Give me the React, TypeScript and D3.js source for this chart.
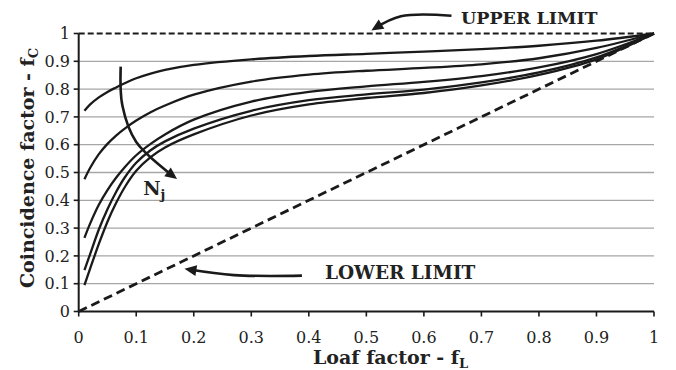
import * as d3 from 'd3'

const W = 676
const H = 370

// Loaf factor grid shared by every curve
const loafFactor = [0.01, 0.02, 0.035, 0.05, 0.065, 0.08, 0.1, 0.125, 0.15, 0.2, 0.3, 0.4, 0.5, 0.6, 0.7, 0.8, 0.9, 1.0]

// Coincidence factor, one series per N_j (top curve = smallest N_j)
const curveA = [0.722, 0.745, 0.77, 0.79, 0.806, 0.821, 0.839, 0.856, 0.869, 0.887, 0.907, 0.919, 0.927, 0.935, 0.944, 0.956, 0.974, 1.0]
const curveB = [0.476, 0.517, 0.566, 0.603, 0.633, 0.658, 0.687, 0.717, 0.741, 0.78, 0.827, 0.852, 0.866, 0.876, 0.889, 0.911, 0.948, 1.0]
const curveC = [0.265, 0.317, 0.384, 0.437, 0.481, 0.519, 0.562, 0.603, 0.637, 0.69, 0.755, 0.79, 0.81, 0.826, 0.847, 0.878, 0.926, 1.0]
const curveD = [0.149, 0.207, 0.295, 0.368, 0.43, 0.482, 0.535, 0.58, 0.612, 0.658, 0.722, 0.76, 0.781, 0.798, 0.824, 0.86, 0.914, 1.0]
const curveE = [0.095, 0.155, 0.243, 0.323, 0.39, 0.447, 0.506, 0.555, 0.59, 0.637, 0.705, 0.745, 0.768, 0.786, 0.813, 0.851, 0.907, 1.0]
const curves = [curveA, curveB, curveC, curveD, curveE]

const limitX = [0, 1]
const upperLimit = [1, 1]
const lowerLimit = [0, 1]

const xTicks = [0, 0.1, 0.2, 0.3, 0.4, 0.5, 0.6, 0.7, 0.8, 0.9, 1]
const xTickLabels = ['0', '0.1', '0.2', '0.3', '0.4', '0.5', '0.6', '0.7', '0.8', '0.9', '1']
const yTicks = [0, 0.1, 0.2, 0.3, 0.4, 0.5, 0.6, 0.7, 0.8, 0.9, 1]
const yTickLabels = ['0', '0.1', '0.2', '0.3', '0.4', '0.5', '0.6', '0.7', '0.8', '0.9', '1']

// annotation arrows, in data units (tail -> tip)
const njArrow: [number, number][] = [[0.073, 0.881], [0.076, 0.74], [0.1, 0.61], [0.166, 0.484]]
const upperArrow: [number, number][] = [[0.648, 1.064], [0.56, 1.062], [0.514, 1.018]]
const lowerArrow: [number, number][] = [[0.388, 0.129], [0.27, 0.131], [0.19, 0.152]]

const FONT = '"DejaVu Serif", Georgia, serif'

export default function App() {
  const x = d3.scaleLinear().domain([0, 1]).range([78.7, 654])
  const y = d3.scaleLinear().domain([0, 1]).range([311.5, 33.5])

  const straight = d3
    .line<[number, number]>()
    .x((d) => x(d[0]))
    .y((d) => y(d[1]))

  const smooth = d3
    .line<[number, number]>()
    .x((d) => x(d[0]))
    .y((d) => y(d[1]))
    .curve(d3.curveCatmullRom.alpha(0.5))

  return (
    <svg
      width={W}
      height={H}
      style={{ position: 'absolute', left: 0, top: 0, background: '#fff' }}
      fontFamily={FONT}
    >
      <defs>
        <marker id="head" viewBox="0 0 10 10" refX="7" refY="5" markerWidth="5.2" markerHeight="4.6" orient="auto" markerUnits="strokeWidth">
          <path d="M0,0.5 L10,5 L0,9.5 z" fill="#1a1a1a" />
        </marker>
      </defs>

      {/* grid */}
      {yTicks.slice(1, -1).map((t) => (
        <line key={t} x1={x(0)} x2={x(1)} y1={y(t)} y2={y(t)} stroke="#a6a6a6" strokeWidth={1.3} />
      ))}

      {/* limits */}
      <path
        d={straight(limitX.map((v, i) => [v, upperLimit[i]]) as [number, number][]) ?? ''}
        fill="none"
        stroke="#1a1a1a"
        strokeWidth={2}
        strokeDasharray="6,3"
      />
      <path
        d={straight(limitX.map((v, i) => [v, lowerLimit[i]]) as [number, number][]) ?? ''}
        fill="none"
        stroke="#1a1a1a"
        strokeWidth={2.8}
        strokeDasharray="9,5"
      />

      {/* curves */}
      {curves.map((c, i) => (
        <path
          key={i}
          d={smooth(loafFactor.map((v, j) => [v, c[j]]) as [number, number][]) ?? ''}
          fill="none"
          stroke="#1a1a1a"
          strokeWidth={2.3}
        />
      ))}

      {/* axes */}
      <line x1={x(0)} x2={x(1)} y1={y(0)} y2={y(0)} stroke="#1a1a1a" strokeWidth={2} />
      <line x1={x(0)} x2={x(0)} y1={y(0)} y2={y(1)} stroke="#1a1a1a" strokeWidth={2} />
      {xTicks.map((t, i) => (
        <g key={t}>
          <line x1={x(t)} x2={x(t)} y1={y(0)} y2={y(0) + 5} stroke="#1a1a1a" strokeWidth={1.6} />
          <text x={x(t)} y={343} textAnchor="middle" fontSize={16} fill="#222">
            {xTickLabels[i]}
          </text>
        </g>
      ))}
      {yTicks.map((t, i) => (
        <g key={t}>
          <line x1={x(0) - 5} x2={x(0)} y1={y(t)} y2={y(t)} stroke="#1a1a1a" strokeWidth={1.6} />
          <text x={70} y={y(t)} dy="0.36em" textAnchor="end" fontSize={16} fill="#222">
            {yTickLabels[i]}
          </text>
        </g>
      ))}

      {/* axis titles */}
      <text x={313} y={364} fontSize={19} fontWeight="bold" fill="#222">
        Loaf factor - f
        <tspan fontSize={13} dy={4}>L</tspan>
      </text>
      <text
        transform={`translate(34, 168) rotate(-90)`}
        textAnchor="middle"
        fontSize={19}
        fontWeight="bold"
        fill="#222"
      >
        Coincidence factor - f
        <tspan fontSize={13} dy={4}>C</tspan>
      </text>

      {/* annotations */}
      <path d={smooth(njArrow) ?? ''} fill="none" stroke="#1a1a1a" strokeWidth={2.6} markerEnd="url(#head)" />
      <path d={smooth(upperArrow) ?? ''} fill="none" stroke="#1a1a1a" strokeWidth={2.6} markerEnd="url(#head)" />
      <path d={smooth(lowerArrow) ?? ''} fill="none" stroke="#1a1a1a" strokeWidth={2.6} markerEnd="url(#head)" />

      <text x={x(0.112)} y={y(0.419)} fontSize={19} fontWeight="bold" fill="#222">
        N
        <tspan fontSize={13} dy={4}>j</tspan>
      </text>
      <text x={461} y={23.5} fontSize={17.5} fontWeight="bold" fill="#222">
        UPPER LIMIT
      </text>
      <text x={325} y={279} fontSize={18.5} fontWeight="bold" fill="#222">
        LOWER LIMIT
      </text>
    </svg>
  )
}
